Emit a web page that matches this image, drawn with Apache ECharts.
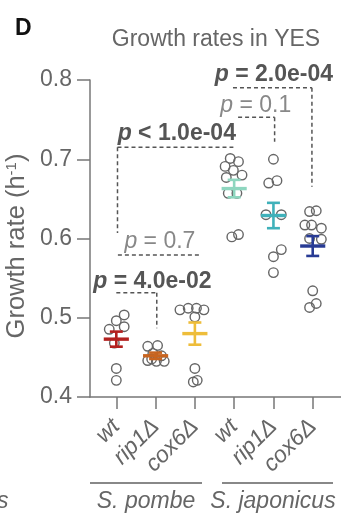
<!DOCTYPE html>
<html>
<head>
<meta charset="utf-8">
<script src="https://cdn.jsdelivr.net/npm/echarts@6/dist/echarts.min.js"></script>
<style>html,body{margin:0;padding:0;background:#fff;}#c{width:341px;height:519px;}</style>
</head>
<body>
<div id="c"></div>
<script>
const categories = ['wt', 'rip1Δ', 'cox6Δ', 'wt', 'rip1Δ', 'cox6Δ'];
const speciesNames = ['S. pombe', 'S. japonicus'];
const yTitle = 'Growth rate (h{sup|-1})';
const chartTitle = 'Growth rates in YES';

// individual growth rates (h^-1) per strain, with horizontal jitter (category units)
const pombeWt      = [0.5035, 0.4963, 0.4854, 0.4887, 0.468, 0.436, 0.421];
const pombeWtJit   = [0.2, 0, -0.18, 0.2, -0.05, 0, 0];
const pombeRip1    = [0.464, 0.465, 0.455, 0.446, 0.445, 0.445, 0.452, 0.448];
const pombeRip1Jit = [-0.2, 0.05, -0.07, -0.2, 0.02, 0.22, 0.15, -0.1];
const pombeCox6    = [0.510, 0.512, 0.512, 0.510, 0.501, 0.436, 0.419, 0.421];
const pombeCox6Jit = [-0.38, -0.17, 0.04, 0.23, 0, 0, -0.04, 0.06];
const japWt        = [0.701, 0.697, 0.691, 0.686, 0.680, 0.677, 0.657, 0.657, 0.602, 0.605];
const japWtJit     = [-0.1, 0.11, -0.23, -0.02, 0.2, -0.2, -0.15, 0.07, -0.06, 0.11];
const japRip1      = [0.700, 0.670, 0.673, 0.630, 0.630, 0.586, 0.577, 0.557];
const japRip1Jit   = [0, -0.12, 0.09, -0.19, 0.2, 0.2, 0, 0];
const japCox6      = [0.634, 0.635, 0.617, 0.617, 0.613, 0.600, 0.599, 0.534, 0.518, 0.513];
const japCox6Jit   = [-0.08, 0.09, -0.2, -0.03, 0.22, -0.08, 0.22, 0, 0.09, -0.08];

// mean and SEM
const means = [0.473, 0.452, 0.480, 0.663, 0.629, 0.5905];
const sems  = [0.0095, 0.004, 0.014, 0.011, 0.016, 0.0125];

// significance brackets (data units)
const pLabels   = ['p = 4.0e-02', 'p = 0.7', 'p < 1.0e-04', 'p = 0.1', 'p = 2.0e-04'];
const pBold     = [true, false, true, false, true];
const brX1      = [0.0, 0.04, 0.03, 3.1, 2.97];
const brX2      = [1.03, 2.13, 2.98, 4.03, 4.98];
const brY       = [0.5316, 0.5792, 0.7151, 0.7529, 0.7903];
const brDropL   = [null, null, 0.6069, null, null];
const brDropR   = [0.4867, null, null, 0.7222, 0.6654];
const pLabelX   = [0.92, 1.11, 1.54, 3.55, 4.01];
const pLabelY   = [0.5455, 0.596, 0.7327, 0.7672, 0.8063];

const barColors = ['#b3211f', '#c8641f', '#eebd3a', '#8ed6bf', '#3fb1ba', '#283b94'];
const FONT = "'Liberation Sans', Arial, Helvetica, sans-serif";
const GREY = '#666';
const FS = 23;

const groups = [
  [pombeWt, pombeWtJit], [pombeRip1, pombeRip1Jit], [pombeCox6, pombeCox6Jit],
  [japWt, japWtJit], [japRip1, japRip1Jit], [japCox6, japCox6Jit]
];
const points = [];
groups.forEach(function (g, gi) {
  g[0].forEach(function (v, k) { points.push([gi + g[1][k], v]); });
});

const chart = echarts.init(document.getElementById('c'), null, {renderer: 'canvas'});

chart.setOption({
  animation: false,
  textStyle: {fontFamily: FONT},
  grid: [
    {left: 90, right: 0, top: 80, bottom: 122},
    {left: 96.65, width: 235.8, top: 80, bottom: 122}
  ],
  xAxis: [
    {
      type: 'value', gridIndex: 0, min: -0.67, max: 5.72,
      axisLine: {show: true, onZero: false, lineStyle: {color: '#777', width: 1.5}},
      axisTick: {show: false}, axisLabel: {show: false}, splitLine: {show: false}
    },
    {
      type: 'category', gridIndex: 1, data: categories, boundaryGap: true,
      axisLine: {show: false, onZero: false},
      axisTick: {show: true, alignWithLabel: true, length: 12, lineStyle: {color: '#777', width: 1.5}},
      axisLabel: {rotate: 45, fontSize: FS, fontStyle: 'italic', color: GREY, margin: 26, fontFamily: FONT, interval: 0},
      splitLine: {show: false}
    }
  ],
  yAxis: [
    {
      type: 'value', gridIndex: 0, min: 0.4, max: 0.8, interval: 0.1,
      axisLine: {show: true, onZero: false, lineStyle: {color: '#777', width: 1.5}},
      axisTick: {show: true, length: 13, lineStyle: {color: '#777', width: 1.5}},
      axisLabel: {fontSize: FS, color: GREY, margin: 18, fontFamily: FONT,
        formatter: function (v) { return v.toFixed(1); }},
      splitLine: {show: false}
    },
    {type: 'value', gridIndex: 1, min: 0.4, max: 0.8, show: false, axisLine: {onZero: false}}
  ],
  series: [
    {
      type: 'scatter', xAxisIndex: 0, yAxisIndex: 0, data: points,
      symbol: 'circle', symbolSize: 9.5,
      itemStyle: {color: 'rgba(0,0,0,0)', borderColor: '#666', borderWidth: 1.4, opacity: 1},
      z: 2
    },
    {
      type: 'custom', xAxisIndex: 0, yAxisIndex: 0, z: 5,
      data: means.map(function (m, i) { return [i, m, sems[i]]; }),
      renderItem: function (params, api) {
        const x = api.value(0), m = api.value(1), s = api.value(2);
        const c = api.coord([x, m]);
        const t = api.coord([x, m + s]);
        const b = api.coord([x, m - s]);
        const mw = api.size([0.32, 0])[0];
        const cw = api.size([0.165, 0])[0];
        const col = barColors[params.dataIndex];
        const st = {stroke: col, lineWidth: 2.6, fill: null};
        return {type: 'group', children: [
          {type: 'line', shape: {x1: c[0], y1: t[1], x2: c[0], y2: b[1]}, style: st},
          {type: 'line', shape: {x1: c[0] - cw, y1: t[1], x2: c[0] + cw, y2: t[1]}, style: st},
          {type: 'line', shape: {x1: c[0] - cw, y1: b[1], x2: c[0] + cw, y2: b[1]}, style: st},
          {type: 'line', shape: {x1: c[0] - mw, y1: c[1], x2: c[0] + mw, y2: c[1]}, style: {stroke: col, lineWidth: 3.4}}
        ]};
      }
    },
    {
      type: 'custom', xAxisIndex: 0, yAxisIndex: 0, z: 4, clip: false,
      data: brY.map(function (y, i) { return [brX1[i], y]; }),
      renderItem: function (params, api) {
        const i = params.dataIndex;
        const p1 = api.coord([brX1[i], brY[i]]);
        const p2 = api.coord([brX2[i], brY[i]]);
        const dash = {stroke: '#555', lineWidth: 1.5, lineDash: [4, 3], fill: null};
        const kids = [{type: 'line', shape: {x1: p1[0], y1: p1[1], x2: p2[0], y2: p2[1]}, style: dash}];
        if (brDropL[i] != null) {
          const d = api.coord([brX1[i], brDropL[i]]);
          kids.push({type: 'line', shape: {x1: p1[0], y1: p1[1], x2: p1[0], y2: d[1]}, style: dash});
        }
        if (brDropR[i] != null) {
          const d = api.coord([brX2[i], brDropR[i]]);
          kids.push({type: 'line', shape: {x1: p2[0], y1: p2[1], x2: p2[0], y2: d[1]}, style: dash});
        }
        const lp = api.coord([pLabelX[i], pLabelY[i]]);
        const bold = pBold[i];
        const col = bold ? '#555' : '#888';
        kids.push({
          type: 'text', x: lp[0], y: lp[1],
          style: {
            text: '{i|p}' + pLabels[i].slice(1),
            fontSize: FS, fontWeight: bold ? 'bold' : 'normal', fontFamily: FONT, fill: col,
            align: 'center', verticalAlign: 'middle',
            rich: {i: {fontStyle: 'italic', fontSize: FS, fontWeight: bold ? 'bold' : 'normal', fontFamily: FONT, fill: col, color: col}}
          }
        });
        return {type: 'group', children: kids};
      }
    }
  ],
  graphic: [
    {type: 'text', left: 15, top: 17, style: {text: 'D', fontSize: 23, fontWeight: 'bold', fill: '#111', fontFamily: FONT}},
    {type: 'text', x: 216, y: 40, style: {text: chartTitle, fontSize: FS, fill: GREY, fontFamily: FONT, align: 'center', verticalAlign: 'middle'}},
    {type: 'text', x: 17, y: 246, rotation: Math.PI / 2,
      style: {text: yTitle, fontSize: 25.5, fill: GREY, fontFamily: FONT, align: 'center', verticalAlign: 'middle',
        rich: {sup: {fontSize: 15, fill: GREY, fontFamily: FONT, verticalAlign: 'top', lineHeight: 15}}}},
    {type: 'line', shape: {x1: 90, y1: 483, x2: 202, y2: 483}, style: {stroke: '#888', lineWidth: 2}},
    {type: 'line', shape: {x1: 222, y1: 483, x2: 333, y2: 483}, style: {stroke: '#888', lineWidth: 2}},
    {type: 'text', x: 146, y: 502, style: {text: speciesNames[0], fontSize: FS, fontStyle: 'italic', fill: GREY, fontFamily: FONT, align: 'center', verticalAlign: 'middle'}},
    {type: 'text', x: 273, y: 502, style: {text: speciesNames[1], fontSize: FS, fontStyle: 'italic', fill: GREY, fontFamily: FONT, align: 'center', verticalAlign: 'middle'}},
    {type: 'text', x: -3, y: 502, style: {text: 's', fontSize: FS, fontStyle: 'italic', fill: GREY, fontFamily: FONT, align: 'left', verticalAlign: 'middle'}}
  ]
});
</script>
</body>
</html>
